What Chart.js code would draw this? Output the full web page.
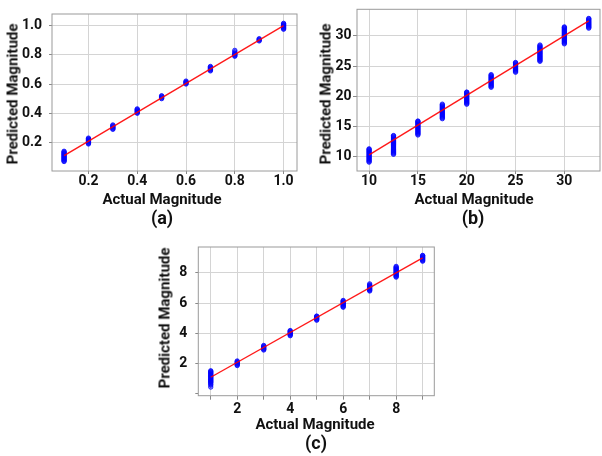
<!DOCTYPE html>
<html><head><meta charset="utf-8">
<script src="https://cdn.jsdelivr.net/npm/chart.js@4/dist/chart.umd.min.js"></script>
<style>
html,body{margin:0;padding:0;background:#fff;width:602px;height:456px;overflow:hidden;position:relative;font-family:Roboto,"Open Sans",sans-serif}
.panel{position:absolute}
.panel canvas{display:block}
.lbl{position:absolute;font-weight:700;color:#111;white-space:nowrap;line-height:1;transform:translate(-50%,-50%)}
.ylbl{transform:translate(-50%,-50%) rotate(-90deg)}
.t{font-size:15px}
.cap{font-size:18px}
</style></head><body>
<div class="panel" style="left:0;top:0;width:302px;height:200px"><canvas id="ca" width="302" height="200"></canvas></div>
<div class="panel" style="left:302px;top:0;width:303px;height:200px"><canvas id="cb" width="303" height="200"></canvas></div>
<div class="panel" style="left:150px;top:232px;width:290px;height:190px"><canvas id="cc" width="290" height="190"></canvas></div>

<div class="lbl t ylbl" style="left:13px;top:94px">Predicted Magnitude</div>
<div class="lbl t" style="left:162px;top:199px">Actual Magnitude</div>
<div class="lbl cap" style="left:162px;top:218px">(a)</div>

<div class="lbl t ylbl" style="left:326px;top:94px">Predicted Magnitude</div>
<div class="lbl t" style="left:474px;top:199px">Actual Magnitude</div>
<div class="lbl cap" style="left:473px;top:218px">(b)</div>

<div class="lbl t ylbl" style="left:165px;top:318px">Predicted Magnitude</div>
<div class="lbl t" style="left:315px;top:424px">Actual Magnitude</div>
<div class="lbl cap" style="left:316px;top:443px">(c)</div>

<script>
// ---------- Panel (a) ----------
const actualA = [0.1, 0.2, 0.3, 0.4, 0.5, 0.6, 0.7, 0.8, 0.9, 1.0];
const predictedA = [
  [0.07, 0.075, 0.08, 0.085, 0.09, 0.095, 0.10, 0.105, 0.11, 0.115, 0.12, 0.125, 0.13, 0.135, 0.14],
  [0.19, 0.195, 0.20, 0.205, 0.21, 0.215, 0.22, 0.225, 0.23],
  [0.29, 0.295, 0.30, 0.305, 0.31, 0.315, 0.32],
  [0.40, 0.405, 0.41, 0.415, 0.42, 0.425, 0.43],
  [0.50, 0.505, 0.51, 0.515, 0.52],
  [0.60, 0.605, 0.61, 0.615, 0.62],
  [0.69, 0.695, 0.70, 0.705, 0.71, 0.715, 0.72],
  [0.79, 0.795, 0.80, 0.805, 0.81, 0.82, 0.83],
  [0.895, 0.90, 0.905, 0.91],
  [0.975, 0.98, 0.985, 0.99, 0.995, 1.0, 1.005, 1.01, 1.015]
];
const fitAx = [0.1, 1.0];
const fitAy = [0.11, 1.0];
const ticksAx = [0.2, 0.4, 0.6, 0.8, 1.0];
const tickLabelsAx = ['0.2', '0.4', '0.6', '0.8', '1.0'];
const ticksAy = [0.2, 0.4, 0.6, 0.8, 1.0];
const tickLabelsAy = ['0.2', '0.4', '0.6', '0.8', '1.0'];

// ---------- Panel (b) ----------
const actualB = [10, 12.5, 15, 17.5, 20, 22.5, 25, 27.5, 30, 32.5];
const predictedB = [
  [9.1, 9.25, 9.4, 9.55, 9.7, 9.85, 10.0, 10.15, 10.3, 10.45, 10.6, 10.75, 10.9, 11.05, 11.2, 11.3],
  [10.4, 10.55, 10.7, 10.85, 11.0, 11.15, 11.3, 11.45, 11.6, 11.75, 11.9, 12.05, 12.2, 12.35, 12.5, 12.65, 12.8, 12.95, 13.1, 13.25, 13.4, 13.5],
  [13.6, 13.75, 13.9, 14.05, 14.2, 14.35, 14.5, 14.65, 14.8, 14.95, 15.1, 15.25, 15.4, 15.55, 15.7, 15.85, 15.9],
  [16.3, 16.45, 16.6, 16.75, 16.9, 17.05, 17.2, 17.35, 17.5, 17.65, 17.8, 17.95, 18.1, 18.25, 18.4, 18.55, 18.7],
  [18.7, 18.85, 19.0, 19.15, 19.3, 19.45, 19.6, 19.75, 19.9, 20.05, 20.2, 20.35, 20.5, 20.65, 20.7],
  [21.5, 21.65, 21.8, 21.95, 22.1, 22.25, 22.4, 22.55, 22.7, 22.85, 23.0, 23.15, 23.3, 23.45, 23.6],
  [24.0, 24.15, 24.3, 24.45, 24.6, 24.75, 24.9, 25.05, 25.2, 25.35, 25.5, 25.6],
  [25.8, 25.95, 26.1, 26.25, 26.4, 26.55, 26.7, 26.85, 27.0, 27.15, 27.3, 27.45, 27.6, 27.75, 27.9, 28.05, 28.2, 28.35, 28.5],
  [28.7, 28.85, 29.0, 29.15, 29.3, 29.45, 29.6, 29.75, 29.9, 30.05, 30.2, 30.35, 30.5, 30.65, 30.8, 30.95, 31.1, 31.25, 31.4, 31.5],
  [31.3, 31.45, 31.6, 31.75, 31.9, 32.05, 32.2, 32.35, 32.5, 32.65, 32.8, 32.9]
];
const fitBx = [10, 32.5];
const fitBy = [10.3, 32.5];
const ticksBx = [10, 15, 20, 25, 30];
const tickLabelsBx = ['10', '15', '20', '25', '30'];
const ticksBy = [10, 15, 20, 25, 30];
const tickLabelsBy = ['10', '15', '20', '25', '30'];

// ---------- Panel (c) ----------
const actualC = [1, 2, 3, 4, 5, 6, 7, 8, 9];
const predictedC = [
  [0.42, 0.55, 0.62, 0.7, 0.75, 0.8, 0.85, 0.9, 0.95, 1.0, 1.05, 1.1, 1.15, 1.2, 1.25, 1.3, 1.35, 1.4, 1.45, 1.5],
  [1.85, 1.9, 1.95, 2.0, 2.05, 2.1, 2.15],
  [2.88, 2.93, 2.98, 3.03, 3.08, 3.13, 3.18],
  [3.83, 3.88, 3.93, 3.98, 4.03, 4.08, 4.13, 4.17],
  [4.86, 4.91, 4.96, 5.01, 5.06, 5.11, 5.13],
  [5.72, 5.77, 5.82, 5.87, 5.92, 5.97, 6.02, 6.07, 6.12, 6.17],
  [6.8, 6.85, 6.9, 6.95, 7.0, 7.05, 7.1, 7.15, 7.2, 7.27],
  [7.72, 7.77, 7.82, 7.87, 7.92, 7.97, 8.02, 8.07, 8.12, 8.17, 8.22, 8.27, 8.32, 8.37, 8.43],
  [8.78, 8.83, 8.88, 8.93, 8.98, 9.03, 9.08, 9.13, 9.16]
];
const fitCx = [1, 9];
const fitCy = [1.07, 9.0];
const ticksCx = [1, 2, 3, 4, 5, 6, 7, 8, 9];
const tickLabelsCx = ['', '2', '', '4', '', '6', '', '8', ''];
const ticksCy = [0, 2, 4, 6, 8];
const tickLabelsCy = ['', '2', '4', '6', '8'];

// ---------- helpers ----------
const GRID = '#d4d4d4', FRAME = '#9a9a9a', TICKC = '#8a8a8a', TEXT = '#111';
const TICKFONT = {family: 'Roboto', weight: 'bold', size: 14, lineHeight: 1};

function pairs(actual, predicted) {
  const out = [];
  actual.forEach((a, i) => predicted[i].forEach(p => out.push({x: a, y: p})));
  return out;
}
function linePts(xs, ys) { return xs.map((x, i) => ({x: x, y: ys[i]})); }

const framePlugin = {
  id: 'frame',
  afterDraw(chart) {
    const {ctx, chartArea: {left, top, right, bottom}} = chart;
    ctx.save();
    ctx.strokeStyle = FRAME;
    ctx.lineWidth = 1;
    ctx.strokeRect(left, top, right - left, bottom - top);
    ctx.restore();
  }
};

function axis(o) {
  return {
    type: 'linear', min: o.min, max: o.max,
    afterFit: s => { if (s.isHorizontal()) s.height = o.size; else s.width = o.size; },
    afterBuildTicks: s => { s.ticks = o.ticks.map(v => ({value: v})); },
    ticks: {
      autoSkip: false, maxRotation: 0, minRotation: 0, padding: o.pad, color: TEXT,
      font: TICKFONT,
      callback: (v, i) => o.labels[i]
    },
    grid: {
      color: c => (c.tick && c.tick.value === 0) ? 'rgba(0,0,0,0)' : GRID,
      lineWidth: 1, tickLength: o.tl, tickColor: TICKC, drawTicks: true
    },
    border: {display: false}
  };
}

function make(id, actual, predicted, fx, fy, xo, yo, padding) {
  new Chart(document.getElementById(id), {
    type: 'scatter',
    data: {
      datasets: [
        {
          data: linePts(fx, fy), showLine: true, borderColor: 'rgba(255,0,0,0.9)',
          borderWidth: 1.4, pointRadius: 0, fill: false
        },
        {
          data: pairs(actual, predicted), pointStyle: 'circle', pointRadius: 2.2,
          borderWidth: 1, borderColor: 'rgba(0,0,255,0.8)', backgroundColor: 'rgba(0,0,255,0.35)'
        }
      ]
    },
    options: {
      responsive: false, animation: false, devicePixelRatio: 1,
      layout: {padding: padding},
      plugins: {legend: {display: false}, tooltip: {enabled: false}, title: {display: false}},
      scales: {x: axis(xo), y: axis(yo)}
    },
    plugins: [framePlugin]
  });
}

make('ca', actualA, predictedA, fitAx, fitAy,
  {min: 0.0505, max: 1.055, ticks: ticksAx, labels: tickLabelsAx, size: 29, tl: 3, pad: 0},
  {min: 0.005, max: 1.079, ticks: ticksAy, labels: tickLabelsAy, size: 52, tl: 3, pad: 7},
  {left: 0, top: 7, right: 1.3, bottom: 0});

make('cb', actualB, predictedB, fitBx, fitBy,
  {min: 8.76, max: 33.65, ticks: ticksBx, labels: tickLabelsBx, size: 29, tl: 3, pad: 0},
  {min: 7.63, max: 34.42, ticks: ticksBy, labels: tickLabelsBy, size: 55, tl: 4, pad: 1.5},
  {left: 0, top: 9.3, right: 0, bottom: 0});

make('cc', actualC, predictedC, fitCx, fitCy,
  {min: 0.53, max: 9.44, ticks: ticksCx, labels: tickLabelsCx, size: 26.3, tl: 4, pad: 2.3},
  {min: -0.155, max: 9.72, ticks: ticksCy, labels: tickLabelsCy, size: 48.3, tl: 3, pad: 8},
  {left: 0, top: 10.7, right: 5.7, bottom: 0});
</script>
</body></html>
